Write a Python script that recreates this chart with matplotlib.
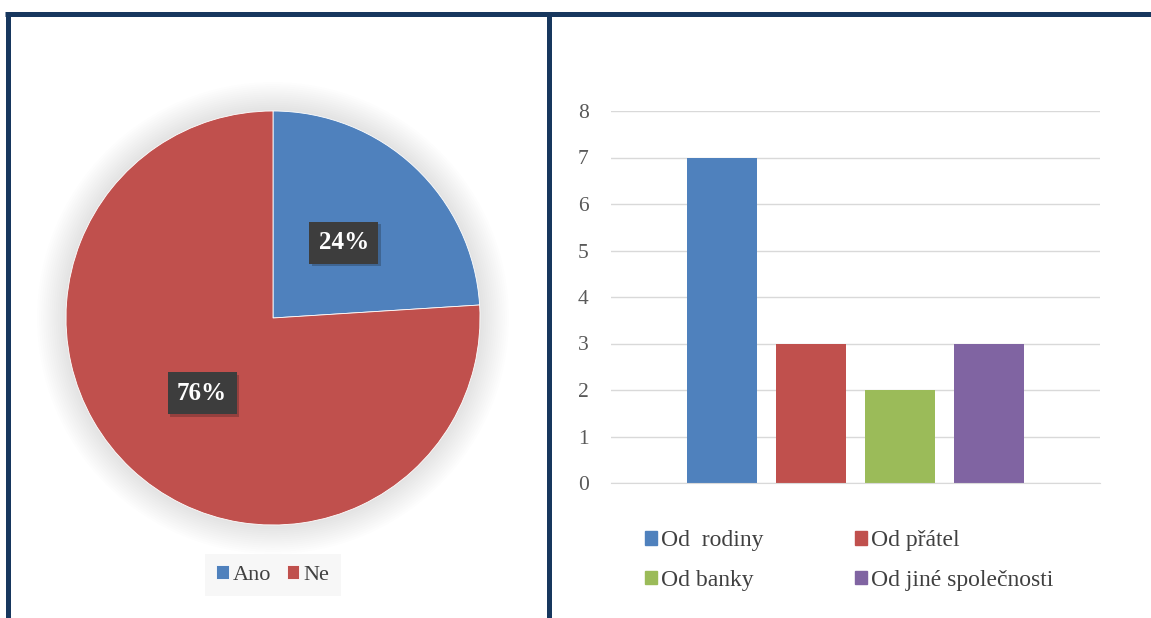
import matplotlib
matplotlib.use('Agg')
import matplotlib.pyplot as plt
from matplotlib.patches import Circle, Patch
from matplotlib.lines import Line2D
import matplotlib.patheffects as pe

plt.rcParams['font.family'] = ['Liberation Serif', 'DejaVu Serif']

# pie data
pie_labels = ['Ano', 'Ne']
pie_vals = [24, 76]
pie_colors = ['#4f81bd', '#c0504d']

# bar data
bar_labels = ['Od  rodiny', 'Od přátel', 'Od banky', 'Od jiné společnosti']
bar_vals = [7, 3, 2, 3]
bar_colors = ['#4f81bd', '#c0504d', '#9bbb59', '#8064a2']
yticks = [0, 1, 2, 3, 4, 5, 6, 7, 8]

W, H = 1151, 618
fig = plt.figure(figsize=(W / 100, H / 100), dpi=100)
fig.patch.set_facecolor('white')


def px_axes(x0, y0, x1, y1):
    # pixel box (top-left origin) -> figure axes
    return fig.add_axes([x0 / W, 1 - y1 / H, (x1 - x0) / W, (y1 - y0) / H])


# ---- pie ----
cx, cy, r = 273, 318, 207
ext = 1.3
ax1 = px_axes(cx - r * ext, cy - r * ext, cx + r * ext, cy + r * ext)
ax1.set_xlim(-ext, ext)
ax1.set_ylim(-ext, ext)
ax1.set_aspect('equal')
ax1.axis('off')

# soft shadow round the pie
n = 14
for i in range(n):
    rr = 1.0 + 0.14 * (n - i) / n
    ax1.add_patch(Circle((0, 0.0), rr, color='black', alpha=0.009, lw=0, zorder=0))

wedges, texts, autotexts = ax1.pie(
    pie_vals, colors=pie_colors, startangle=90, counterclock=False,
    autopct='%1.0f%%', pctdistance=0.5, radius=1.0,
    wedgeprops=dict(linewidth=0.6, edgecolor='white'),
    textprops=dict(color='white', fontsize=18, fontweight='bold'))
for t in autotexts:
    t.set_bbox(dict(boxstyle='square,pad=0.38', facecolor='#3d3d3d', edgecolor='none'))
    t.get_bbox_patch().set_path_effects([pe.withSimplePatchShadow(offset=(2, -2), alpha=0.25)])
ax1.set_xlim(-ext, ext)
ax1.set_ylim(-ext, ext)

leg1 = fig.legend(wedges, pie_labels, loc='center', bbox_to_anchor=(273 / W, 1 - 575 / H),
                  ncol=2, frameon=True, fontsize=16, handlelength=0.55, handleheight=0.55,
                  handletextpad=0.2, columnspacing=0.7, borderpad=0.5, fancybox=False)
leg1.get_frame().set_facecolor('#f6f6f6')
leg1.get_frame().set_edgecolor('none')
for t in leg1.get_texts():
    t.set_color('#404040')

# ---- bars ----
ax2 = px_axes(611, 111, 1100, 483)
xs = range(len(bar_vals))
bars = ax2.bar(xs, bar_vals, width=0.78, color=bar_colors, zorder=2)
ax2.set_xlim(-1.25, 4.25)
ax2.set_ylim(0, 8)
ax2.set_yticks(yticks)
ax2.set_xticks([])
ax2.yaxis.grid(True, color='#d9d9d9', linewidth=1, zorder=0)
ax2.tick_params(axis='y', length=0, pad=16, labelsize=15.5, labelcolor='#595959')
for s in ax2.spines.values():
    s.set_visible(False)
ax2.spines['bottom'].set_visible(True)
ax2.spines['bottom'].set_color('#d9d9d9')

# legend rows: rodiny/přátel, banka/jiné
order = [0, 2, 1, 3]
handles = [Patch(color=bar_colors[i]) for i in order]
leg2 = fig.legend(handles, [bar_labels[i] for i in order], loc='upper left',
                  bbox_to_anchor=(624 / W, 1 - 509 / H), ncol=2, frameon=False,
                  fontsize=17, handlelength=0.5, handleheight=0.5, handletextpad=0.15,
                  columnspacing=3.9, labelspacing=0.8)
for t in leg2.get_texts():
    t.set_color('#404040')

# ---- frame lines ----
navy = '#17375e'
lw = 3.6
fig.add_artist(Line2D([5 / W, 1.0], [1 - 14 / H, 1 - 14 / H], color=navy, lw=lw,
                      transform=fig.transFigure, solid_capstyle='butt'))
fig.add_artist(Line2D([8 / W, 8 / W], [1 - 12 / H, 0], color=navy, lw=lw,
                      transform=fig.transFigure, solid_capstyle='butt'))
fig.add_artist(Line2D([549 / W, 549 / W], [1 - 12 / H, 0], color=navy, lw=lw,
                      transform=fig.transFigure, solid_capstyle='butt'))

fig.savefig('out.png', dpi=100)
